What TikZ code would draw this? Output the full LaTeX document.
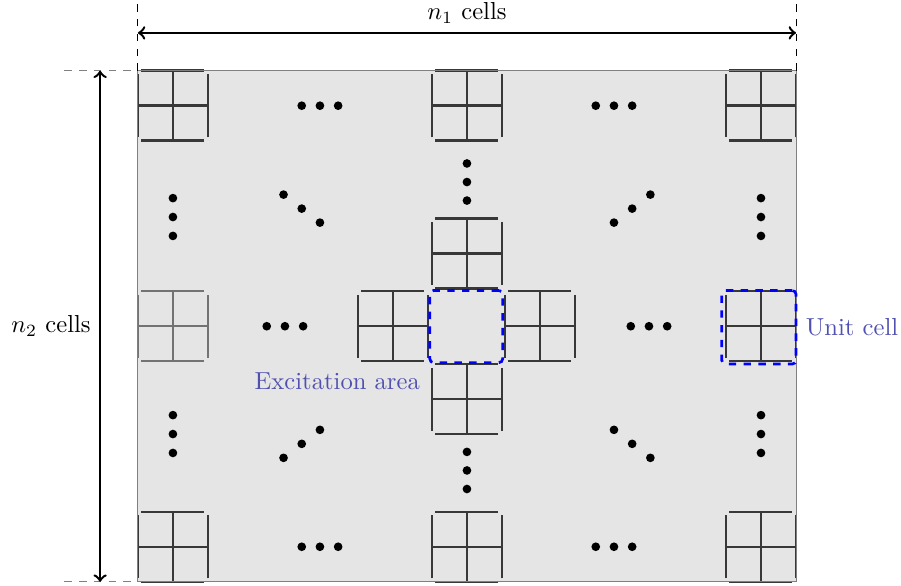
\documentclass[tikz,border=0pt]{standalone}
\usepackage{amsmath}
\usepackage{tikz}
\usetikzlibrary{positioning}

\definecolor{labelblue}{RGB}{80,80,176}

\tikzset{
    cellline/.style={line width=1pt},
    unitcell/.pic={
        \draw[cellline] (0.05,0) -- (0.95,0) (0.05,1) -- (0.95,1)
                        (0,0.05) -- (0,0.95) (1,0.05) -- (1,0.95)
                        (0.5,0) -- (0.5,1) (0,0.5) -- (1,0.5);
    },
    dashbox/.style={draw=blue, dashed, line width=1.1pt, rounded corners=1.5pt, inner sep=0pt}
}

\begin{document}
\begin{tikzpicture}
    \useasboundingbox (-1.97,-0.06) rectangle (10.9,8.31);
    % sample area
    \coordinate (sw) at (0,0);
    \coordinate (ne) at (9.4,7.3);
    \fill[gray!20] (sw) rectangle (ne);
    % unit cells on the border and round the centre
    \foreach \x/\y in {0/0, 4.2/0, 8.4/0, 8.4/3.15, 0/6.3, 4.2/6.3, 8.4/6.3,
                       4.2/4.19, 4.2/2.11, 3.14/3.15, 5.24/3.15}
        \pic[black!78] at (\x,\y) {unitcell};
    \pic[black!55] at (0,3.15) {unitcell};
    \draw[gray] (sw) rectangle (ne);
    % dots between the cells
    \foreach \x/\y/\dx/\dy in {2.6/6.8/0.26/0, 6.8/6.8/0.26/0, 2.6/0.5/0.26/0, 6.8/0.5/0.26/0,
                               2.1/3.65/0.26/0, 7.3/3.65/0.26/0,
                               0.5/5.21/0/0.27, 0.5/2.11/0/0.27, 8.9/5.21/0/0.27, 8.9/2.11/0/0.27,
                               4.7/5.71/0/0.265, 4.7/1.59/0/0.265,
                               2.34/5.33/0.26/-0.2, 7.06/5.33/0.26/0.2,
                               2.34/1.97/0.26/0.2, 7.06/1.97/0.26/-0.2}
        \foreach \i in {-1,0,1}
            \fill (\x+\i*\dx, \y+\i*\dy) circle (0.062);
    % marked regions
    \node[dashbox, minimum width=1.04cm, minimum height=1.03cm] (excite) at (4.69,3.645) {};
    \node[dashbox, minimum width=1.06cm, minimum height=1.05cm] (ucell) at (8.87,3.635) {};
    \node[labelblue, below left=0pt of excite.south west, inner sep=3.3pt] (excitelabel) {Excitation area};
    \node[labelblue, right=0pt of ucell.east, inner sep=3.3pt] (ucelllabel) {Unit cell};
    % sizes
    \coordinate (topl) at (0,8.31);
    \coordinate (topr) at (9.4,8.31);
    \coordinate (nwl) at (-1.05,7.3);
    \coordinate (swl) at (-1.05,0);
    \coordinate (ntop) at (0,7.3);
    \draw[dashed] (ntop) -- (topl);
    \draw[dashed] (ne) -- (topr);
    \draw[dashed, gray] (nwl) -- (ntop);
    \draw[dashed, gray] (swl) -- (sw);
    \coordinate (a1) at (0,7.84);
    \coordinate (b1) at (9.4,7.84);
    \coordinate (a2) at (-0.54,0);
    \coordinate (b2) at (-0.54,7.3);
    \draw[<->, line width=1pt] (a1) -- node[above] (n1label) {$n_1$ cells} (b1);
    \draw[<->, line width=1pt] (a2) -- node[left] (n2label) {$n_2$ cells} (b2);
\end{tikzpicture}
\end{document}
